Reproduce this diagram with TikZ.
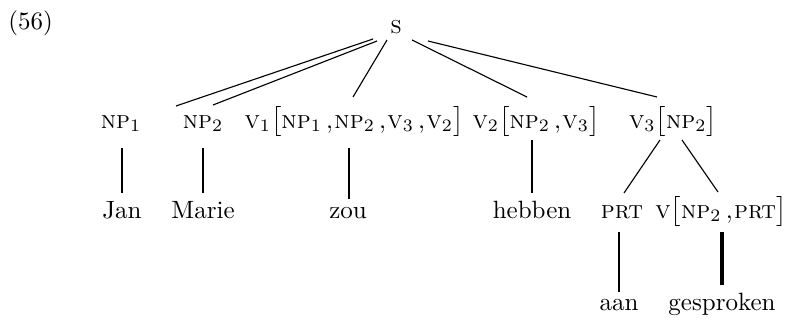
\documentclass[tikz,border=0pt]{standalone}
\usepackage{fontspec}
\usetikzlibrary{calc}
% category labels in spaced small capitals, words slightly spaced
\newcommand{\cat}[1]{\mbox{\scshape\addfontfeature{LetterSpace=5}#1}}
\newcommand{\lexword}[1]{{\addfontfeature{LetterSpace=3}#1}}
% comma between arguments: set off from the subscript before it
\newcommand{\argsep}{\mskip3mu{,}\mskip1mu}
\begin{document}
\begin{tikzpicture}[x=0.4pt,y=-0.4pt,
  lbl/.style={inner sep=0pt,anchor=base},
  branch/.style={line width=0.45pt},
  stem/.style={line width=0.85pt},
  heavystem/.style={line width=1.25pt}]
\useasboundingbox (0,0) rectangle (795,320);

% example number
\node[lbl,anchor=base west] (num) at (8,30) {\lexword{(56)}};

% root
\node[lbl] (s) at (396,33) {$\cat{s}$};

% first row of categories
\node[lbl] (np1) at (121,128) {$\cat{np}_1$};
\node[lbl] (np2) at (203,128) {$\cat{np}_2$};
\node[lbl] (v1)  at (354,128) {$\cat{v}_1\bigl[\cat{np}_1\argsep\cat{np}_2\argsep\cat{v}_3\argsep\cat{v}_2\bigr]$};
\node[lbl] (v2)  at (536,128) {$\cat{v}_2\bigl[\cat{np}_2\argsep\cat{v}_3\bigr]$};
\node[lbl] (v3)  at (673,128) {$\cat{v}_3\bigl[\cat{np}_2\bigr]$};

% second row
\node[lbl] (jan)    at (122,218) {\lexword{Jan}};
\node[lbl] (marie)  at (203,218) {\lexword{Marie}};
\node[lbl] (zou)    at (348,218) {\lexword{zou}};
\node[lbl] (hebben) at (532,218) {\lexword{hebben}};
\node[lbl] (prt)    at (622,218) {$\cat{prt}$};
\node[lbl] (vnp)    at (721,218) {$\cat{v}\bigl[\cat{np}_2\argsep\cat{prt}\bigr]$};

% third row
\node[lbl] (aan)       at (619,310) {\lexword{aan}};
\node[lbl] (gesproken) at (722,310) {\lexword{gesproken}};

% branches from the root
\draw[branch] ($(s.base)+(-23,6)$) -- ($(np2.base)+(-27,-22)$);
\draw[branch] ($(s.base)+(-19,8)$) -- ($(np2.base)+(10,-23)$);
\draw[branch] ($(s.base)+(-9,7)$)  -- ($(v1.base)+(-1,-31)$);
\draw[branch] ($(s.base)+(16,7)$)  -- ($(v2.base)+(-9,-31)$);
\draw[branch] ($(s.base)+(32,8)$)  -- ($(v3.base)+(-16,-31)$);

% branches below V3
\draw[branch] ($(v3.base)+(-13,12)$) -- ($(prt.base)+(2,-25)$);
\draw[branch] ($(v3.base)+(9,12)$)   -- ($(vnp.base)+(-3,-26)$);

% lexical stems
\draw[stem] ($(np1.base)+(1,20)$)  -- ($(jan.base)+(0,-25)$);
\draw[stem] ($(np2.base)+(0,20)$)  -- ($(marie.base)+(0,-25)$);
\draw[stem] ($(v1.base)+(-5,20)$)  -- ($(zou.base)+(1,-19)$);
\draw[stem] ($(v2.base)+(-4,12)$)  -- ($(hebben.base)+(0,-25)$);
\draw[stem] ($(prt.base)+(-3,14)$) -- ($(aan.base)+(0,-18)$);
\draw[heavystem] ($(vnp.base)+(1,14)$) -- ($(gesproken.base)+(0,-25)$);
\end{tikzpicture}
\end{document}
